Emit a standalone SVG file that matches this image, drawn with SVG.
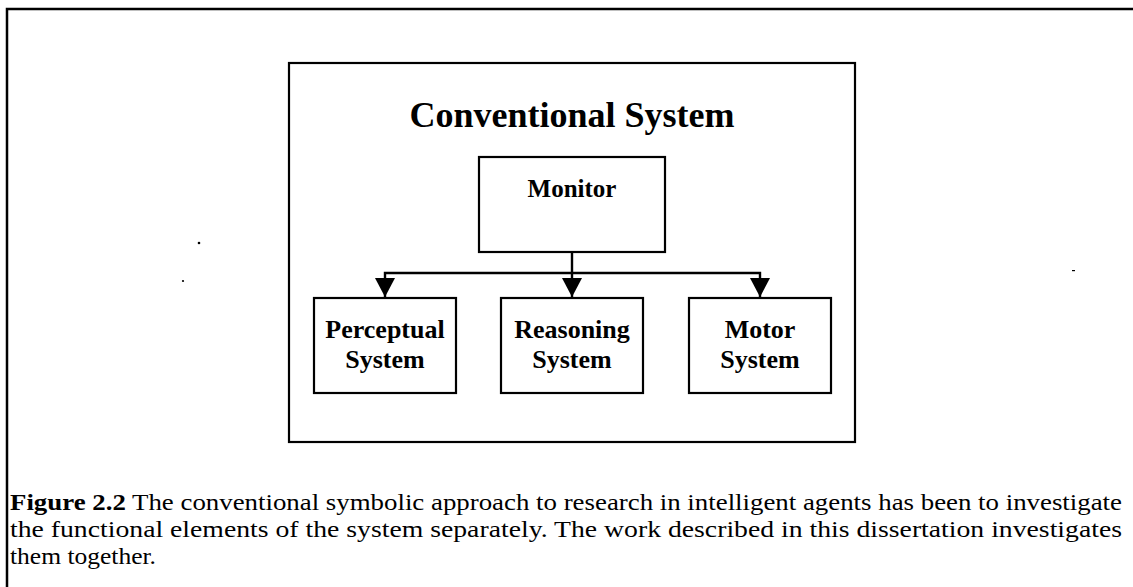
<svg xmlns="http://www.w3.org/2000/svg" width="1133" height="587" viewBox="0 0 1133 587">
  <style>
    .box { fill: #ffffff; stroke: #000000; stroke-width: 2.2; }
    .frame { fill: none; stroke: #000000; stroke-width: 2.5; }
    .wire { fill: none; stroke: #000000; stroke-width: 2.4; }
    .label { font-family: "Liberation Serif", "Times New Roman", serif; font-weight: bold; fill: #000000; text-anchor: middle; }
    .caption { font-family: "Liberation Serif", "Times New Roman", serif; font-size: 23.5px; fill: #000000; }
    .speck { fill: #000000; }
  </style>
  <defs>
    <!-- solid triangular head, tip at the end of the line -->
    <marker id="arrowhead" viewBox="0 0 19 20" refX="19" refY="10" markerWidth="19" markerHeight="20" markerUnits="userSpaceOnUse" orient="auto-start-reverse">
      <path d="M0,0 L19,10 L0,20 Z" fill="#000000"/>
    </marker>
  </defs>

  <rect width="1133" height="587" fill="#ffffff"/>

  <!-- page frame: top and left rule -->
  <path class="frame" d="M7,587 L7,9 L1133,9"/>

  <!-- enclosing system box -->
  <g id="conventional-system">
    <rect class="box" x="289" y="63" width="566" height="379"/>
    <text class="label" x="572" y="127" font-size="36">Conventional System</text>
  </g>

  <g id="monitor">
    <rect class="box" x="479" y="157" width="186" height="95"/>
    <text class="label" x="572" y="197" font-size="25">Monitor</text>
  </g>

  <g id="perceptual-system">
    <rect class="box" x="314" y="298" width="142" height="95"/>
    <text class="label" x="385" y="338" font-size="26">Perceptual</text>
    <text class="label" x="385" y="368" font-size="26">System</text>
  </g>

  <g id="reasoning-system">
    <rect class="box" x="501" y="298" width="142" height="95"/>
    <text class="label" x="572" y="338" font-size="26">Reasoning</text>
    <text class="label" x="572" y="368" font-size="26">System</text>
  </g>

  <g id="motor-system">
    <rect class="box" x="689" y="298" width="142" height="95"/>
    <text class="label" x="760" y="338" font-size="26">Motor</text>
    <text class="label" x="760" y="368" font-size="26">System</text>
  </g>

  <!-- connectors from the monitor to the three subsystems -->
  <g id="connectors">
    <line class="wire" x1="572" y1="252" x2="572" y2="297" stroke-width="1.6" marker-end="url(#arrowhead)"/>
    <path class="wire" d="M385,297 L385,273 L760,273 L760,297" marker-start="url(#arrowhead)" marker-end="url(#arrowhead)"/>
  </g>

  <!-- stray marks -->
  <circle class="speck" cx="199" cy="243" r="1.3"/>
  <circle class="speck" cx="183" cy="281" r="1.1"/>
  <rect class="speck" x="1072" y="270" width="3" height="1.2"/>

  <!-- figure caption, justified to the frame width -->
  <g id="caption">
    <text class="caption" x="10" y="510" textLength="1112" lengthAdjust="spacingAndGlyphs"><tspan font-weight="bold">Figure 2.2</tspan> The conventional symbolic approach to research in intelligent agents has been to investigate</text>
    <text class="caption" x="10" y="537" textLength="1112" lengthAdjust="spacingAndGlyphs">the functional elements of the system separately.  The work described in this dissertation investigates</text>
    <text class="caption" x="10" y="564" textLength="146" lengthAdjust="spacingAndGlyphs">them together.</text>
  </g>
</svg>
